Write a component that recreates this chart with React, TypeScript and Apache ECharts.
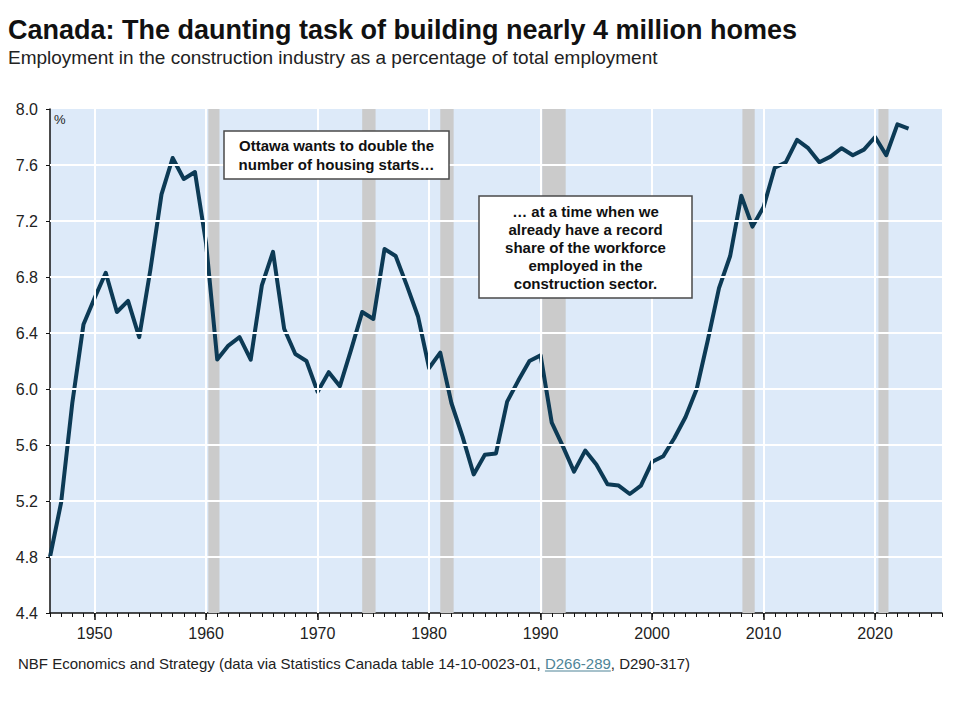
import React, { useEffect, useRef } from 'react';
import * as echarts from 'echarts';

const TITLE = 'Canada: The daunting task of building nearly 4 million homes';
const SUBTITLE = 'Employment in the construction industry as a percentage of total employment';
const FOOTER_A = 'NBF Economics and Strategy (data via Statistics Canada table 14-10-0023-01, ';
const FOOTER_LINK = 'D266-289';
const FOOTER_B = ', D290-317)';
const NOTE_1 = ['Ottawa wants to double the', 'number of housing starts…'];
const NOTE_2 = ['… at a time when we', 'already have a record', 'share of the workforce', 'employed in the', 'construction sector.'];

const YEARS = [
  1946, 1947, 1948, 1949, 1950, 1951, 1952, 1953, 1954, 1955,
  1956, 1957, 1958, 1959, 1960, 1961, 1962, 1963, 1964, 1965,
  1966, 1967, 1968, 1969, 1970, 1971, 1972, 1973, 1974, 1975,
  1976, 1977, 1978, 1979, 1980, 1981, 1982, 1983, 1984, 1985,
  1986, 1987, 1988, 1989, 1990, 1991, 1992, 1993, 1994, 1995,
  1996, 1997, 1998, 1999, 2000, 2001, 2002, 2003, 2004, 2005,
  2006, 2007, 2008, 2009, 2010, 2011, 2012, 2013, 2014, 2015,
  2016, 2017, 2018, 2019, 2020, 2021, 2022, 2023,
];

const SHARE = [
  4.80, 5.19, 5.90, 6.46, 6.65, 6.83, 6.55, 6.63, 6.37, 6.85,
  7.39, 7.65, 7.50, 7.55, 7.04, 6.21, 6.31, 6.37, 6.21, 6.74,
  6.98, 6.43, 6.25, 6.20, 5.98, 6.12, 6.02, 6.28, 6.55, 6.50,
  7.00, 6.95, 6.74, 6.52, 6.15, 6.26, 5.90, 5.66, 5.39, 5.53,
  5.54, 5.91, 6.06, 6.20, 6.24, 5.76, 5.59, 5.41, 5.56, 5.46,
  5.32, 5.31, 5.25, 5.31, 5.48, 5.52, 5.65, 5.80, 6.00, 6.35,
  6.72, 6.95, 7.38, 7.16, 7.30, 7.58, 7.62, 7.78, 7.72, 7.62,
  7.66, 7.72, 7.67, 7.71, 7.80, 7.67, 7.89, 7.86,
];

const RECESSIONS = [
  [1960.2, 1961.2],
  [1974.0, 1975.2],
  [1981.0, 1982.2],
  [1990.15, 1992.25],
  [2008.1, 2009.2],
  [2020.3, 2021.2],
];

const DECADES = [1950, 1960, 1970, 1980, 1990, 2000, 2010, 2020];
const Y_GRID = [4.8, 5.2, 5.6, 6.0, 6.4, 6.8, 7.2, 7.6];
const X_MIN = 1946;
const X_MAX = 2026;
const Y_MIN = 4.4;
const Y_MAX = 8.0;
const Y_STEP = 0.4;

const FONT = '"Liberation Sans", Arial, sans-serif';

export default function App() {
  const ref = useRef<HTMLDivElement>(null);

  useEffect(() => {
    if (!ref.current) return;
    const chart = echarts.init(ref.current, null, { renderer: 'svg' });

    const footerSize = 15;
    const canvas = document.createElement('canvas');
    const ctx = canvas.getContext('2d');
    let wA = 560;
    let wL = 66;
    if (ctx) {
      ctx.font = `${footerSize}px "Liberation Sans"`;
      wA = ctx.measureText(FOOTER_A).width;
      wL = ctx.measureText(FOOTER_LINK).width;
    }
    const footerX = 18;
    const footerY = 663;

    const box = (x: number, y: number, w: number, h: number, lines: string[], lh: number) => ({
      type: 'group',
      z: 100,
      children: [
        {
          type: 'rect',
          shape: { x, y, width: w, height: h },
          style: { fill: '#ffffff', stroke: '#4a4a4a', lineWidth: 1.5 },
          z: 100,
        },
        {
          type: 'text',
          x: x + w / 2,
          y: y + h / 2,
          z: 101,
          style: {
            text: lines.join('\n'),
            fill: '#111111',
            font: `bold 15px ${FONT}`,
            fontSize: 15,
            fontWeight: 'bold',
            fontFamily: FONT,
            lineHeight: lh,
            textAlign: 'center',
            textVerticalAlign: 'middle',
            align: 'center',
            verticalAlign: 'middle',
          },
        },
      ],
    });

    const option: any = {
      animation: false,
      grid: {
        left: 50,
        right: 18,
        top: 109,
        bottom: 107,
        show: true,
        backgroundColor: '#DDEAF9',
        borderWidth: 0,
      },
      xAxis: [
        {
          type: 'value',
          min: X_MIN,
          max: X_MAX,
          interval: 1,
          axisLine: { show: true, onZero: false, lineStyle: { color: '#111', width: 1.5 } },
          axisTick: { show: true, length: 4, lineStyle: { color: '#111', width: 1 } },
          axisLabel: {
            formatter: (v: number) => (v % 10 === 0 ? String(v) : ''),
            fontSize: 16,
            color: '#222',
            margin: 12,
            fontFamily: FONT,
          },
          splitLine: { show: false },
        },
        {
          type: 'value',
          min: X_MIN,
          max: X_MAX,
          position: 'bottom',
          axisLine: { show: false, onZero: false },
          axisTick: { show: true, length: 7, customValues: DECADES, lineStyle: { color: '#111', width: 1.5 } },
          axisLabel: { show: false },
          splitLine: { show: false },
        },
      ],
      yAxis: {
        type: 'value',
        min: Y_MIN,
        max: Y_MAX,
        interval: Y_STEP,
        axisLine: { show: true, onZero: false, lineStyle: { color: '#111', width: 1.5 } },
        axisTick: { show: true, length: 4, lineStyle: { color: '#111', width: 1 } },
        axisLabel: {
          formatter: (v: number) => v.toFixed(1),
          fontSize: 16,
          color: '#222',
          margin: 12,
          fontFamily: FONT,
        },
        splitLine: { show: false },
      },
      series: [
        {
          type: 'line',
          data: [],
          z: 1,
          silent: true,
          markArea: {
            silent: true,
            itemStyle: { color: '#CBCBCB' },
            data: RECESSIONS.map(([a, b]) => [{ xAxis: a }, { xAxis: b }]),
          },
        },
        {
          type: 'line',
          data: [],
          z: 1.5,
          silent: true,
          markLine: {
            silent: true,
            symbol: ['none', 'none'],
            label: { show: false },
            lineStyle: { color: '#ffffff', width: 2, type: 'solid' },
            data: [
              ...Y_GRID.map((v) => ({ yAxis: v })),
              ...DECADES.map((v) => ({ xAxis: v })),
            ],
          },
        },
        {
          type: 'line',
          data: YEARS.map((y, i) => [y, SHARE[i]]),
          symbol: 'none',
          showSymbol: false,
          z: 3,
          lineStyle: { color: '#0C3A55', width: 4, join: 'round' },
        },
      ],
      graphic: [
        {
          type: 'text',
          x: 8,
          y: 30,
          z: 100,
          style: {
            text: TITLE,
            fill: '#111',
            font: `bold 27px ${FONT}`,
            fontSize: 27,
            fontWeight: 'bold',
            fontFamily: FONT,
            textVerticalAlign: 'middle',
            verticalAlign: 'middle',
          },
        },
        {
          type: 'text',
          x: 8,
          y: 57,
          z: 100,
          style: {
            text: SUBTITLE,
            fill: '#222',
            font: `19px ${FONT}`,
            fontSize: 19,
            fontFamily: FONT,
            textVerticalAlign: 'middle',
            verticalAlign: 'middle',
          },
        },
        {
          type: 'text',
          x: 54,
          y: 119,
          z: 100,
          style: {
            text: '%',
            fill: '#222',
            font: `13px ${FONT}`,
            fontSize: 13,
            fontFamily: FONT,
            textVerticalAlign: 'middle',
            verticalAlign: 'middle',
          },
        },
        box(224, 131, 225, 48, NOTE_1, 19),
        box(479, 196, 213, 102, NOTE_2, 18),
        {
          type: 'text',
          x: footerX,
          y: footerY,
          z: 100,
          style: {
            text: `{a|${FOOTER_A}}{b|${FOOTER_LINK}}{a|${FOOTER_B}}`,
            font: `${footerSize}px ${FONT}`,
            fontSize: footerSize,
            fontFamily: FONT,
            textVerticalAlign: 'middle',
            verticalAlign: 'middle',
            rich: {
              a: { fill: '#222', color: '#222', fontSize: footerSize, fontFamily: FONT },
              b: { fill: '#4E8497', color: '#4E8497', fontSize: footerSize, fontFamily: FONT },
            },
          },
        },
        {
          type: 'line',
          z: 100,
          shape: { x1: footerX + wA, y1: footerY + 8, x2: footerX + wA + wL, y2: footerY + 8 },
          style: { stroke: '#4E8497', lineWidth: 1 },
        },
      ],
    };

    chart.setOption(option);
    return () => chart.dispose();
  }, []);

  return (
    <div
      ref={ref}
      style={{ position: 'fixed', left: 0, top: 0, width: 960, height: 720, background: '#ffffff' }}
    />
  );
}
